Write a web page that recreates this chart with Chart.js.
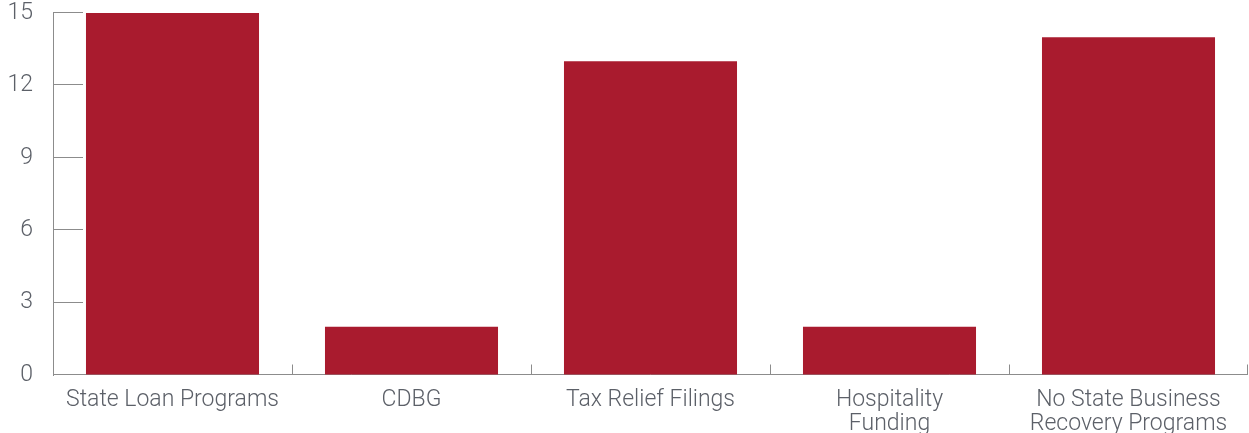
<!DOCTYPE html>
<html>
<head>
<meta charset="utf-8">
<script src="https://cdn.jsdelivr.net/npm/chart.js@4"></script>
<style>
  html, body { margin: 0; padding: 0; background: #fff; }
  #wrap { width: 1249px; height: 433px; position: relative; }
</style>
</head>
<body>
<div id="wrap"><canvas id="chart"></canvas></div>
<script>
const categories = [
  'State Loan Programs',
  'CDBG',
  'Tax Relief Filings',
  ['Hospitality', 'Funding'],
  ['No State Business', 'Recovery Programs']
]
const counts = [15, 2, 13, 2, 14]
const yTicks = [0, 3, 6, 9, 12, 15]

const axisGray = '#8c8c8c'
const textGray = '#5c6068'

// tick marks drawn inward, like the original
const innerTicks = {
  id: 'innerTicks',
  beforeDatasetsDraw(chart) {
    const ctx = chart.ctx
    const x = chart.scales.x
    const y = chart.scales.y
    ctx.save()
    ctx.strokeStyle = axisGray
    ctx.lineWidth = 1
    ctx.beginPath()
    yTicks.forEach(v => {
      const py = Math.round(y.getPixelForValue(v)) - 0.5
      ctx.moveTo(x.left, py)
      ctx.lineTo(x.left + 30, py)
    })
    const bottom = Math.round(y.bottom) - 0.5
    ctx.moveTo(x.left, bottom)
    ctx.lineTo(x.right, bottom)
    for (let i = 1; i <= categories.length; i++) {
      const px = Math.round((x.getPixelForValue(i - 1) + x.getPixelForValue(i)) / 2) + 0.5
      const edge = i === categories.length ? Math.round(x.right) - 0.5 : px
      ctx.moveTo(edge, bottom)
      ctx.lineTo(edge, bottom - 10)
    }
    ctx.stroke()
    ctx.restore()
  }
}

const labelFont = { family: 'Roboto', size: 23, weight: 300, lineHeight: 1.04 }

new Chart(document.getElementById('chart'), {
  type: 'bar',
  data: {
    labels: categories,
    datasets: [{
      data: counts,
      backgroundColor: '#a91b2e',
      borderWidth: 0,
      barPercentage: 0.724,
      categoryPercentage: 1
    }]
  },
  options: {
    responsive: true,
    maintainAspectRatio: false,
    animation: false,
    layout: { padding: { top: 13, right: 1, left: 0, bottom: 0 } },
    scales: {
      x: {
        grid: { display: false },
        border: { display: false },
        ticks: {
          color: textGray,
          font: labelFont,
          padding: 5,
          maxRotation: 0,
          autoSkip: false
        },
        afterFit(scale) {
          scale.height = 58
          scale.paddingLeft = 0
          scale.paddingRight = 0
        }
      },
      y: {
        min: 0,
        max: 15,
        afterBuildTicks(scale) { scale.ticks = yTicks.map(v => ({ value: v })) },
        grid: { drawOnChartArea: false, drawTicks: false },
        border: { display: true, color: axisGray, width: 1 },
        ticks: {
          color: textGray,
          font: labelFont,
          padding: 20
        },
        afterFit(scale) {
          scale.width = 53
          scale.paddingTop = 0
          scale.paddingBottom = 0
        }
      }
    },
    plugins: {
      legend: { display: false },
      tooltip: { enabled: false }
    }
  },
  plugins: [innerTicks]
})
</script>
</body>
</html>
